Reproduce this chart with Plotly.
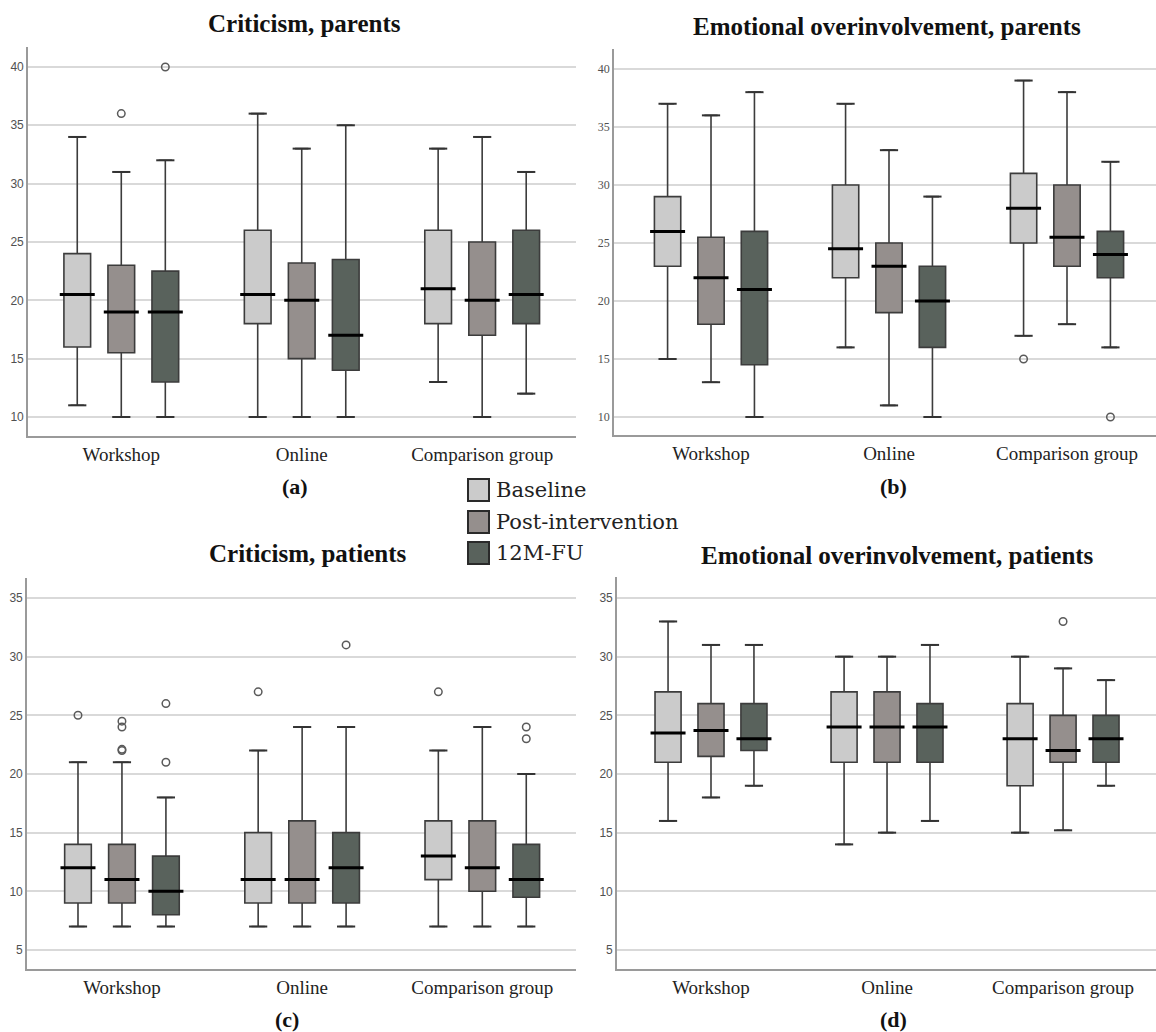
import plotly.graph_objects as go

# ---------------- data ----------------
groups = ["Workshop", "Online", "Comparison group"]
timepoints = ["Baseline", "Post-intervention", "12M-FU"]

# rows: Baseline, Post-intervention, 12M-FU ; columns: Workshop, Online, Comparison group
# (a) Criticism, parents
a_lower = [[11, 10, 13], [10, 10, 10], [10, 10, 12]]
a_q1 = [[16, 18, 18], [15.5, 15, 17], [13, 14, 18]]
a_median = [[20.5, 20.5, 21], [19, 20, 20], [19, 17, 20.5]]
a_q3 = [[24, 26, 26], [23, 23.2, 25], [22.5, 23.5, 26]]
a_upper = [[34, 36, 33], [31, 33, 34], [32, 35, 31]]
a_outliers = [(1, 0, 36), (2, 0, 40)]  # (timepoint, group, value)

# (b) Emotional overinvolvement, parents
b_lower = [[15, 16, 17], [13, 11, 18], [10, 10, 16]]
b_q1 = [[23, 22, 25], [18, 19, 23], [14.5, 16, 22]]
b_median = [[26, 24.5, 28], [22, 23, 25.5], [21, 20, 24]]
b_q3 = [[29, 30, 31], [25.5, 25, 30], [26, 23, 26]]
b_upper = [[37, 37, 39], [36, 33, 38], [38, 29, 32]]
b_outliers = [(0, 2, 15), (2, 2, 10)]

# (c) Criticism, patients
c_lower = [[7, 7, 7], [7, 7, 7], [7, 7, 7]]
c_q1 = [[9, 9, 11], [9, 9, 10], [8, 9, 9.5]]
c_median = [[12, 11, 13], [11, 11, 12], [10, 12, 11]]
c_q3 = [[14, 15, 16], [14, 16, 16], [13, 15, 14]]
c_upper = [[21, 22, 22], [21, 24, 24], [18, 24, 20]]
c_outliers = [(0, 0, 25), (1, 0, 22), (1, 0, 22.1), (1, 0, 24), (1, 0, 24.5),
              (2, 0, 21), (2, 0, 26), (0, 1, 27), (2, 1, 31), (0, 2, 27),
              (2, 2, 23), (2, 2, 24)]

# (d) Emotional overinvolvement, patients
d_lower = [[16, 14, 15], [18, 15, 15.2], [19, 16, 19]]
d_q1 = [[21, 21, 19], [21.5, 21, 21], [22, 21, 21]]
d_median = [[23.5, 24, 23], [23.7, 24, 22], [23, 24, 23]]
d_q3 = [[27, 27, 26], [26, 27, 25], [26, 26, 25]]
d_upper = [[33, 30, 30], [31, 30, 29], [31, 31, 28]]
d_outliers = [(1, 2, 33)]

titles = ["Criticism, parents", "Emotional overinvolvement, parents",
          "Criticism, patients", "Emotional overinvolvement, patients"]
sublabels = ["(a)", "(b)", "(c)", "(d)"]

# ---------------- styles / layout ----------------
W, H = 1156, 1032
fills = ["#cbcbcb", "#958f8d", "#59625c"]
offsets = [-0.244, 0.0, 0.244]
box_w = 0.148


def xdom(p0, p1):
    return [p0 / W, p1 / W]


def ydom(top, bottom):
    return [1 - bottom / H, 1 - top / H]


panels = [
    dict(stats=(a_lower, a_q1, a_median, a_q3, a_upper), out=a_outliers,
         xpx=(28, 576), xr=[-0.517, 2.52], ypx=(47, 436), yr=[8.37, 41.71],
         ticks=[10, 15, 20, 25, 30, 35, 40], tfont="Liberation Sans",
         title_xy=(304, 23), sub_xy=(295, 487)),
    dict(stats=(b_lower, b_q1, b_median, b_q3, b_upper), out=b_outliers,
         xpx=(614, 1156), xr=[-0.545, 2.5], ypx=(49, 435), yr=[8.45, 41.72],
         ticks=[10, 15, 20, 25, 30, 35, 40], tfont="Liberation Serif",
         title_xy=(887, 26), sub_xy=(893, 487)),
    dict(stats=(c_lower, c_q1, c_median, c_q3, c_upper), out=c_outliers,
         xpx=(27, 576), xr=[-0.527, 2.52], ypx=(578, 969), yr=[3.38, 36.70],
         ticks=[5, 10, 15, 20, 25, 30, 35], tfont="Liberation Sans",
         title_xy=(307, 553), sub_xy=(287, 1019)),
    dict(stats=(d_lower, d_q1, d_median, d_q3, d_upper), out=d_outliers,
         xpx=(617, 1156), xr=[-0.534, 2.528], ypx=(577, 969), yr=[3.38, 36.79],
         ticks=[5, 10, 15, 20, 25, 30, 35], tfont="Liberation Sans",
         title_xy=(897, 555), sub_xy=(893, 1019)),
]

fig = go.Figure()
layout = dict(
    width=W, height=H, margin=dict(l=0, r=0, t=0, b=0),
    plot_bgcolor="white", paper_bgcolor="white", showlegend=False,
    annotations=[], shapes=[],
)

for pi, p in enumerate(panels):
    sfx = "" if pi == 0 else str(pi + 1)
    xa, ya = "x" + sfx, "y" + sfx
    lower, q1, med, q3, upper = p["stats"]
    for ti in range(3):
        xs = [g + offsets[ti] for g in range(len(groups))]
        fig.add_trace(go.Box(
            x=xs, q1=q1[ti], median=med[ti], q3=q3[ti],
            lowerfence=lower[ti], upperfence=upper[ti],
            width=box_w, fillcolor=fills[ti],
            line=dict(color="#3c3c3c", width=1.6),
            boxpoints=False, name=timepoints[ti], xaxis=xa, yaxis=ya,
            hoverinfo="skip",
        ))
        # whisker caps
        fig.add_trace(go.Scatter(
            x=xs + xs, y=lower[ti] + upper[ti], mode="markers",
            marker=dict(symbol="line-ew", size=13, color="#333333",
                        line=dict(color="#333333", width=2)),
            xaxis=xa, yaxis=ya, hoverinfo="skip",
        ))
        # thick median line
        fig.add_trace(go.Scatter(
            x=xs, y=med[ti], mode="markers",
            marker=dict(symbol="line-ew", size=25, color="#000000",
                        line=dict(color="#000000", width=3)),
            xaxis=xa, yaxis=ya, hoverinfo="skip",
        ))
    # outliers
    ox = [o[1] + offsets[o[0]] for o in p["out"]]
    oy = [o[2] for o in p["out"]]
    fig.add_trace(go.Scatter(
        x=ox, y=oy, mode="markers",
        marker=dict(symbol="circle-open", size=7.5, color="#5a5a5a",
                    line=dict(color="#5a5a5a", width=1.5)),
        xaxis=xa, yaxis=ya, hoverinfo="skip",
    ))

    layout["xaxis" + sfx] = dict(
        domain=xdom(*p["xpx"]), range=p["xr"], anchor=ya,
        tickmode="array", tickvals=list(range(len(groups))), ticktext=groups,
        showgrid=False, zeroline=False, showline=True, mirror=False,
        linecolor="#9a9a9a", linewidth=1.6, ticks="",
        tickfont=dict(family="Liberation Serif", size=19, color="#222222"),
    )
    layout["yaxis" + sfx] = dict(
        domain=ydom(*p["ypx"]), range=p["yr"], anchor=xa,
        tickmode="array", tickvals=p["ticks"],
        showgrid=True, gridcolor="#d9d9d9", gridwidth=2,
        zeroline=False, showline=True, mirror=False,
        linecolor="#9a9a9a", linewidth=1.6,
        ticks="", tickfont=dict(family=p["tfont"], size=12, color="#505050"),
    )
    tx, ty = p["title_xy"]
    layout["annotations"].append(dict(
        text="<b>%s</b>" % titles[pi], x=tx / W, y=1 - ty / H,
        xref="paper", yref="paper", showarrow=False,
        xanchor="center", yanchor="middle",
        font=dict(family="Liberation Serif", size=25, color="#111111"),
    ))
    sx, sy = p["sub_xy"]
    layout["annotations"].append(dict(
        text="<b>%s</b>" % sublabels[pi], x=sx / W, y=1 - sy / H,
        xref="paper", yref="paper", showarrow=False,
        xanchor="center", yanchor="middle",
        font=dict(family="Liberation Serif", size=22, color="#111111"),
    ))

# legend (manual swatches)
leg_y = [490, 522, 553]
for ti in range(3):
    cy = leg_y[ti]
    layout["shapes"].append(dict(
        type="rect", xref="paper", yref="paper",
        x0=468 / W, x1=489 / W, y0=1 - (cy + 11) / H, y1=1 - (cy - 11) / H,
        fillcolor=fills[ti], line=dict(color="#2a2a2a", width=2),
    ))
    layout["annotations"].append(dict(
        text=timepoints[ti], x=494 / W, y=1 - cy / H,
        xref="paper", yref="paper", showarrow=False,
        xanchor="left", yanchor="middle",
        font=dict(family="DejaVu Serif", size=21, color="#222222"),
    ))

fig.update_layout(**layout)
fig.write_html(
    "out.html",
    config={"displayModeBar": False},
    post_script="document.body.style.margin='0';document.body.style.overflow='hidden';",
)
